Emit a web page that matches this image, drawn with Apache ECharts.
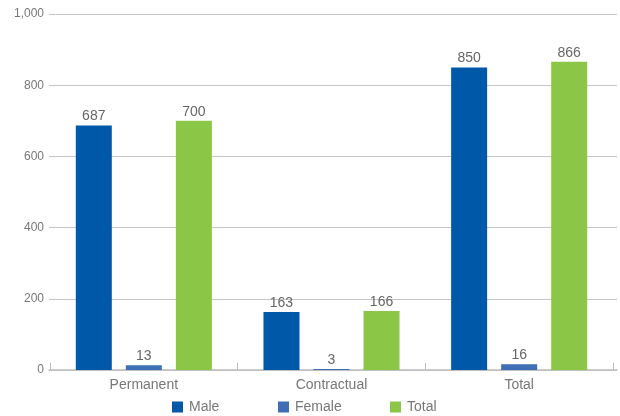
<!DOCTYPE html>
<html>
<head>
<meta charset="utf-8">
<script src="https://cdn.jsdelivr.net/npm/echarts@6/dist/echarts.min.js"></script>
<style>
  html, body { margin: 0; padding: 0; background: #fff; }
  #chart { width: 620px; height: 416px; }
</style>
</head>
<body>
<div id="chart"></div>
<script>
// Employees by contract type and gender
const categories = ['Permanent', 'Contractual', 'Total'];
const maleValues = [687, 163, 850];
const femaleValues = [13, 3, 16];
const totalValues = [700, 166, 866];
const yTicks = [0, 200, 400, 600, 800, 1000];
const seriesNames = ['Male', 'Female', 'Total'];

const FONT = '"Liberation Sans", Arial, sans-serif';
const TEXT = '#777';

function barSeries(name, data, color) {
  return {
    name: name,
    type: 'bar',
    xAxisIndex: 1,
    yAxisIndex: 1,
    data: data,
    barGap: '39%',
    barCategoryGap: '27.5%',
    itemStyle: { color: color },
    label: {
      show: true,
      position: 'top',
      distance: 2,
      color: '#666',
      fontSize: 14,
      fontFamily: FONT
    }
  };
}

function legendItem(name, left) {
  return {
    data: [name],
    left: left,
    top: 395,
    itemWidth: 11,
    itemHeight: 11,
    icon: 'rect',
    textStyle: { color: TEXT, fontSize: 14, fontFamily: FONT, padding: [0, 0, 0, 1] }
  };
}

const yScale = {
  type: 'value',
  min: yTicks[0],
  max: yTicks[yTicks.length - 1],
  interval: yTicks[1] - yTicks[0]
};

const chart = echarts.init(document.getElementById('chart'), null, { renderer: 'canvas' });
chart.setOption({
  animation: false,
  textStyle: { fontFamily: FONT },
  grid: [
    // background grid: value labels, gridlines and the baseline across the full width
    { left: 49, right: 3, top: 14, bottom: 46 },
    // plotting grid for the bars and category ticks
    { left: 50, right: 7, top: 14, bottom: 46 }
  ],
  legend: [
    legendItem(seriesNames[0], 167),
    legendItem(seriesNames[1], 273),
    legendItem(seriesNames[2], 385)
  ],
  xAxis: [
    {
      gridIndex: 0,
      type: 'value',
      min: 0,
      max: 1,
      axisLine: { show: true, onZero: false, lineStyle: { color: '#bdbdbd', width: 1.5 } },
      axisTick: { show: false },
      axisLabel: { show: false },
      splitLine: { show: false }
    },
    {
      gridIndex: 1,
      type: 'category',
      data: categories,
      axisLine: { show: false },
      axisTick: { show: true, inside: true, length: 7, lineStyle: { color: '#bdbdbd' } },
      axisLabel: { color: TEXT, fontSize: 14, fontFamily: FONT, margin: 8 }
    }
  ],
  yAxis: [
    Object.assign({}, yScale, {
      gridIndex: 0,
      axisLine: { show: false },
      axisTick: { show: false },
      splitLine: { show: true, lineStyle: { color: '#c6c6c6', width: 1 } },
      axisLabel: {
        color: TEXT,
        fontSize: 12,
        fontFamily: FONT,
        margin: 5,
        formatter: v => v.toLocaleString('en-US')
      }
    }),
    Object.assign({}, yScale, {
      gridIndex: 1,
      show: false,
      splitLine: { show: false }
    })
  ],
  series: [
    barSeries(seriesNames[0], maleValues, '#0059a8'),
    barSeries(seriesNames[1], femaleValues, '#3d6eb6'),
    barSeries(seriesNames[2], totalValues, '#8cc646')
  ]
});
</script>
</body>
</html>
